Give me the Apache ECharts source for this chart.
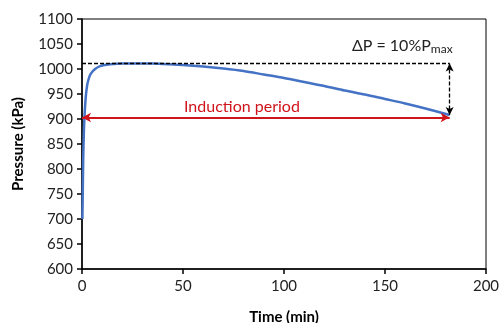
<!DOCTYPE html>
<html>
<head>
<meta charset="utf-8">
<script src="https://cdn.jsdelivr.net/npm/echarts@6/dist/echarts.min.js"></script>
<style>
  html, body { margin: 0; padding: 0; background: #fff; }
  #chart { width: 499px; height: 323px; }
</style>
</head>
<body>
<div id="chart"></div>
<script>
// time (min) and pressure (kPa)
const timeMin = [0.2, 0.4, 0.6, 0.9, 1.2, 1.6, 2.0, 2.5, 3.0, 4.0, 5.0, 6.5, 8, 10, 13, 16, 20, 25, 30, 35, 40, 50, 60, 70, 80, 90, 100, 110, 120, 130, 140, 150, 160, 170, 182]
const pressure = [700, 760, 820, 870, 902, 930, 950, 966, 976, 988, 994, 1000, 1004, 1007, 1009, 1010, 1011, 1011, 1011, 1011, 1010, 1008, 1005, 1001, 996, 989, 982, 974, 966, 957, 949, 940, 931, 921, 908]

const pMax = 1011
const pEnd = 908
const tEnd = 182
const inductionY = 903

const chart = echarts.init(document.getElementById('chart'))
const font = 'Lato, "Open Sans", sans-serif'

chart.setOption({
  animation: false,
  grid: {
    left: 82, right: 13, top: 19, bottom: 54,
    containLabel: false, outerBoundsMode: 'none',
    show: true, borderColor: '#000', borderWidth: 1
  },
  xAxis: {
    type: 'value', min: 0, max: 200, interval: 50,
    name: 'Time (min)', nameLocation: 'middle', nameGap: 41,
    nameTextStyle: { fontFamily: font, fontSize: 15, fontWeight: 'bold', color: '#000' },
    axisLine: { lineStyle: { color: '#000', width: 1.5 } },
    axisTick: { inside: false, length: 5, lineStyle: { color: '#000', width: 1.5 } },
    axisLabel: { fontFamily: font, fontSize: 15, color: '#222', margin: 10, formatter: (v) => String(v) },
    splitLine: { show: false }
  },
  yAxis: {
    type: 'value', min: 600, max: 1100, interval: 50,
    name: 'Pressure (kPa)', nameLocation: 'middle', nameGap: 56,
    nameTextStyle: { fontFamily: font, fontSize: 15, fontWeight: 'bold', color: '#000' },
    axisLine: { show: true, lineStyle: { color: '#000', width: 1.5 } },
    axisTick: { show: true, length: 5, lineStyle: { color: '#000', width: 1.5 } },
    axisLabel: { fontFamily: font, fontSize: 15, color: '#222', margin: 9, formatter: (v) => String(v) },
    splitLine: { show: false }
  },
  series: [
    {
      type: 'line',
      data: timeMin.map((t, i) => [t, pressure[i]]),
      showSymbol: false,
      smooth: 0.3,
      lineStyle: { color: '#4472C4', width: 2.5 },
      z: 3
    },
    {
      // dashed max line + delta P arrow
      type: 'line', data: [], silent: true,
      markLine: {
        silent: true, symbol: 'none',
        lineStyle: { color: '#000', type: [4, 2], width: 1.3 },
        data: [
          [
            { coord: [0, pMax], symbol: 'none' },
            {
              coord: [tEnd, pMax], symbol: 'none',
              label: {
                show: true, position: 'insideEndTop', distance: [-3, 8],
                fontFamily: font, fontSize: 16, color: '#222',
                formatter: 'ΔP = 10%P{s|max}',
                rich: { s: { fontFamily: font, fontSize: 12, color: '#222', verticalAlign: 'bottom', padding: [7, 0, 0, 0] } }
              }
            }
          ],
          [
            { coord: [tEnd, pMax], symbol: 'arrow', symbolSize: [6, 8] },
            { coord: [tEnd, pEnd], symbol: 'arrow', symbolSize: [6, 8], label: { show: false } }
          ]
        ]
      }
    },
    {
      // induction period arrow
      type: 'line', data: [], silent: true,
      markLine: {
        silent: true, symbol: ['arrow', 'arrow'], symbolSize: [7, 9],
        lineStyle: { color: '#D0141C', type: 'solid', width: 2 },
        data: [
          [
            { coord: [0, inductionY] },
            {
              coord: [tEnd, inductionY],
              label: {
                show: true, position: 'insideStartTop', distance: [102, 3],
                formatter: 'Induction period',
                fontFamily: font, fontSize: 16, color: '#D0141C'
              }
            }
          ]
        ]
      }
    }
  ]
})
</script>
</body>
</html>
